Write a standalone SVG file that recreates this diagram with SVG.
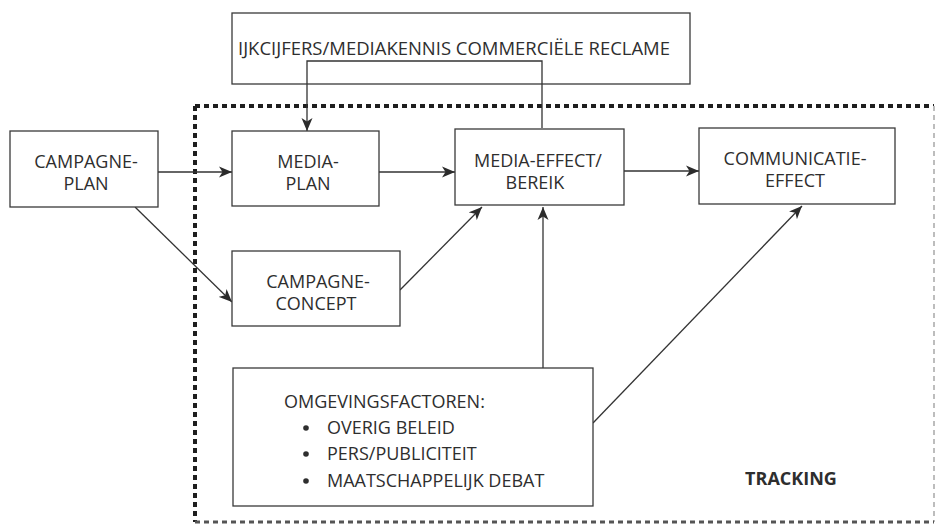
<svg xmlns="http://www.w3.org/2000/svg" width="937" height="525" viewBox="0 0 937 525">
  <defs>
    <marker id="arrow" markerUnits="userSpaceOnUse" markerWidth="14" markerHeight="12" refX="13" refY="6" orient="auto">
      <path d="M0,0.5 L13,6 L0,11.5 L3.5,6 Z" fill="#2b2b2b"/>
    </marker>
    <style>
      .box { fill: #ffffff; stroke: #3a3a3a; stroke-width: 1.3; }
      .lbl { font-family: "Open Sans", "Liberation Sans", sans-serif; font-size: 18px; fill: #2e2e2e; text-anchor: middle; }
      .lst { font-family: "Open Sans", "Liberation Sans", sans-serif; font-size: 18px; fill: #2e2e2e; }
      .conn { fill: none; stroke: #333333; stroke-width: 1.3; }
      .arr { marker-end: url(#arrow); }
    </style>
  </defs>

  <rect width="937" height="525" fill="#ffffff"/>

  <!-- tracking frame: heavy dotted top/left, lighter right/bottom -->
  <g id="tracking">
    <line x1="195" y1="106" x2="934" y2="106" stroke="#1e1e1e" stroke-width="4" stroke-dasharray="5 4"/>
    <line x1="195" y1="106" x2="195" y2="522" stroke="#1e1e1e" stroke-width="4" stroke-dasharray="5 4"/>
    <line x1="934" y1="106" x2="934" y2="522" stroke="#bdbdbd" stroke-width="2" stroke-dasharray="5 4"/>
    <line x1="195" y1="522" x2="934" y2="522" stroke="#555555" stroke-width="3" stroke-dasharray="5 4"/>
    <text x="791" y="485" class="lst" style="font-weight:bold;text-anchor:middle">TRACKING</text>
  </g>

  <!-- connectors -->
  <g id="connectors">
    <line class="conn arr" x1="158" y1="172" x2="232" y2="172"/>
    <line class="conn arr" x1="379" y1="172" x2="455" y2="172"/>
    <line class="conn arr" x1="624" y1="171" x2="699" y2="171"/>
    <line class="conn arr" x1="135" y1="207" x2="232" y2="302"/>
    <line class="conn arr" x1="400" y1="290" x2="482" y2="207"/>
    <line class="conn arr" x1="543" y1="368" x2="543" y2="207"/>
    <line class="conn arr" x1="593" y1="423" x2="802" y2="206"/>
    <polyline class="conn arr" points="542,128 542,61 307,61 307,131"/>
  </g>

  <g id="benchmarks">
    <rect class="box" x="232" y="13" width="458" height="71"/>
    <text x="454" y="55" class="lbl" textLength="432" lengthAdjust="spacingAndGlyphs">IJKCIJFERS/MEDIAKENNIS COMMERCIËLE RECLAME</text>
  </g>

  <!-- feedback line drawn again over the benchmark box -->
  <g id="feedback-overlay">
    <polyline class="conn" points="542,84 542,61 307,61 307,84"/>
  </g>

  <g id="campagneplan">
    <rect class="box" x="10" y="131" width="148" height="76"/>
    <text x="86" y="168" class="lbl">CAMPAGNE-</text>
    <text x="86" y="190" class="lbl">PLAN</text>
  </g>

  <g id="mediaplan">
    <rect class="box" x="232" y="131" width="147" height="75"/>
    <text x="308" y="168" class="lbl">MEDIA-</text>
    <text x="308" y="190" class="lbl">PLAN</text>
  </g>

  <g id="mediaeffect">
    <rect class="box" x="455" y="129" width="169" height="76"/>
    <text x="538" y="167" class="lbl">MEDIA-EFFECT/</text>
    <text x="535" y="189" class="lbl">BEREIK</text>
  </g>

  <g id="communicatie">
    <rect class="box" x="699" y="128" width="196" height="76"/>
    <text x="795" y="165" class="lbl">COMMUNICATIE-</text>
    <text x="795" y="187" class="lbl">EFFECT</text>
  </g>

  <g id="campagneconcept">
    <rect class="box" x="232" y="251" width="168" height="75"/>
    <text x="318" y="288" class="lbl">CAMPAGNE-</text>
    <text x="316" y="310" class="lbl">CONCEPT</text>
  </g>

  <g id="omgevingsfactoren">
    <rect class="box" x="233" y="368" width="360" height="138"/>
    <text x="284" y="408" class="lst">OMGEVINGSFACTOREN:</text>
    <circle cx="306" cy="428" r="2.8" fill="#2e2e2e"/>
    <text x="327" y="434" class="lst">OVERIG BELEID</text>
    <circle cx="306" cy="454" r="2.8" fill="#2e2e2e"/>
    <text x="327" y="460" class="lst">PERS/PUBLICITEIT</text>
    <circle cx="306" cy="481" r="2.8" fill="#2e2e2e"/>
    <text x="327" y="487" class="lst">MAATSCHAPPELIJK DEBAT</text>
  </g>
</svg>
